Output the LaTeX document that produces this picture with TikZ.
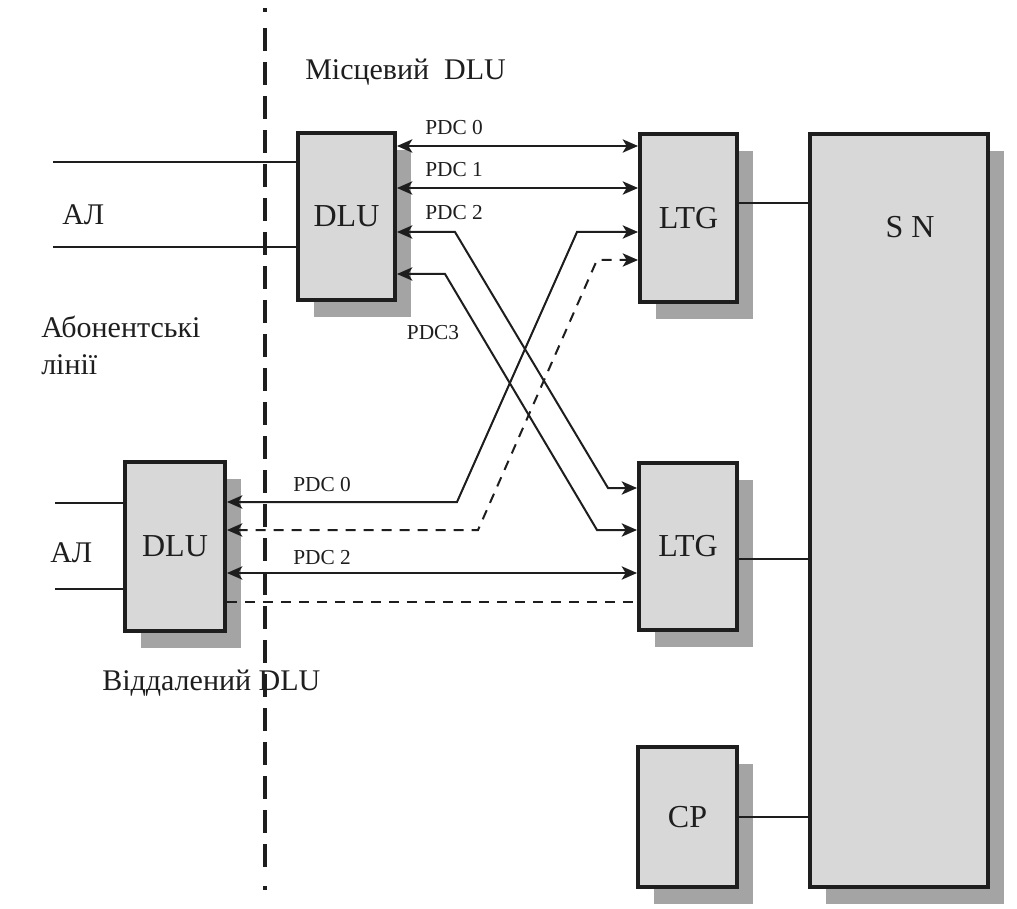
\documentclass[tikz,border=0pt]{standalone}
\usepackage{fontspec}
\setmainfont{Liberation Serif}
\usetikzlibrary{arrows.meta,shadows,calc}
\definecolor{boxfill}{HTML}{D8D8D8}
\definecolor{shadowgray}{HTML}{A4A4A4}
\definecolor{ink}{HTML}{1E1E1E}
\tikzset{
  unitbox/.style={draw=ink, line width=3pt, fill=boxfill, inner sep=0pt,
    font=\fontsize{24}{28}\selectfont, text=ink,
    general shadow={fill=shadowgray, shadow xshift=12pt, shadow yshift=-12.75pt}},
  conn/.style={draw=ink, line width=1.5pt},
  dconn/.style={conn, dash pattern=on 7.5pt off 6pt},
  tip/.tip={Stealth[length=11.5pt,width=10pt,inset=3pt]},
  both/.style={tip-tip},
  pdc/.style={font=\fontsize{16}{18}\selectfont, text=ink, inner sep=0pt},
  caption/.style={font=\fontsize{22.5}{26}\selectfont, text=ink, inner sep=0pt, anchor=west},
  sepline/.style={draw=ink, line width=3pt, dash pattern=on 17.25pt off 8.25pt}
}
\begin{document}
\begin{tikzpicture}[x=0.75pt,y=-0.75pt]
\useasboundingbox[fill=white] (0,0) rectangle (1017,909);

% units
\node[unitbox, minimum width=72.75pt, minimum height=125.25pt] (dlu1) at (346.5,216.5) {DLU};
\node[unitbox, minimum width=75pt, minimum height=126.75pt] (dlu2) at (175,546.5) {DLU};
\node[unitbox, minimum width=72.75pt, minimum height=126pt] (ltg1) at (688.5,218) {LTG};
\node[unitbox, minimum width=73.5pt, minimum height=125.25pt] (ltg2) at (688,546.5) {LTG};
\node[unitbox, minimum width=133.5pt, minimum height=564.75pt] (sn) at (899,510.5) {};
\node[pdc, font=\fontsize{24}{28}\selectfont] (snlabel) at (910,227) {S N};
\node[unitbox, minimum width=74.25pt, minimum height=105pt] (cp) at (687.5,817) {CP};

% subscriber lines
\coordinate (a1) at (53,162);
\coordinate (a2) at (53,247);
\coordinate (a3) at (55,503);
\coordinate (a4) at (55,589);
\draw[conn] (a1) -- (a1 -| dlu1.west);
\draw[conn] (a2) -- (a2 -| dlu1.west);
\draw[conn] (a3) -- (a3 -| dlu2.west);
\draw[conn] (a4) -- (a4 -| dlu2.west);

% links to the switching network
\draw[conn] (ltg1.east |- 0,203) -- (sn.west |- 0,203);
\draw[conn] (ltg2.east |- 0,559) -- (sn.west |- 0,559);
\draw[conn] (cp.east |- 0,817) -- (sn.west |- 0,817);

% local DLU primary digital carriers
\draw[conn, both] (dlu1.east |- 0,146) -- (ltg1.west |- 0,146);
\draw[conn, both] (dlu1.east |- 0,188) -- (ltg1.west |- 0,188);
\draw[conn, both] (dlu1.east |- 0,232) -- (455,232) -- (608,488) -- (ltg2.west |- 0,488);
\draw[conn, both] (dlu1.east |- 0,274) -- (445,274) -- (597,530) -- (ltg2.west |- 0,530);
\node[pdc] (p0) at (454,128) {PDC 0};
\node[pdc] (p1) at (454,170) {PDC 1};
\node[pdc] (p2) at (454,213) {PDC 2};
\node[pdc] (p3) at (433,333) {PDC3};

% remote DLU primary digital carriers
\draw[conn, both] (dlu2.east |- 0,502) -- (457,502) -- (577,232) -- (ltg1.west |- 0,232);
\draw[dconn, both] (dlu2.east |- 0,530) -- (478,530) -- (597,260) -- (ltg1.west |- 0,260);
\draw[conn, both] (dlu2.east |- 0,573) -- (ltg2.west |- 0,573);
\draw[dconn] (dlu2.east |- 0,602) -- (ltg2.west |- 0,602);
\node[pdc] (q0) at (322,485) {PDC 0};
\node[pdc] (q2) at (322,558) {PDC 2};

% captions
\node[caption] (local) at (305,72) {Місцевий~ DLU};
\node[caption] (al1) at (62,215) {АЛ};
\node[caption] (abon) at (41,327) {Абонентські};
\node[caption] (linii) at (41,365) {лінії};
\node[caption] (al2) at (50,553) {АЛ};
\node[caption] (remote) at (102,683) {Віддалений DLU};

% boundary between local and remote equipment
\coordinate (s0) at (265,28);
\coordinate (s1) at (265,867);
\draw[sepline] (s0) -- (s1);
\draw[draw=ink, line width=2.5pt] (265,8) -- (265,12);
\draw[draw=ink, line width=2.5pt] (265,886) -- (265,890);
\end{tikzpicture}
\end{document}
